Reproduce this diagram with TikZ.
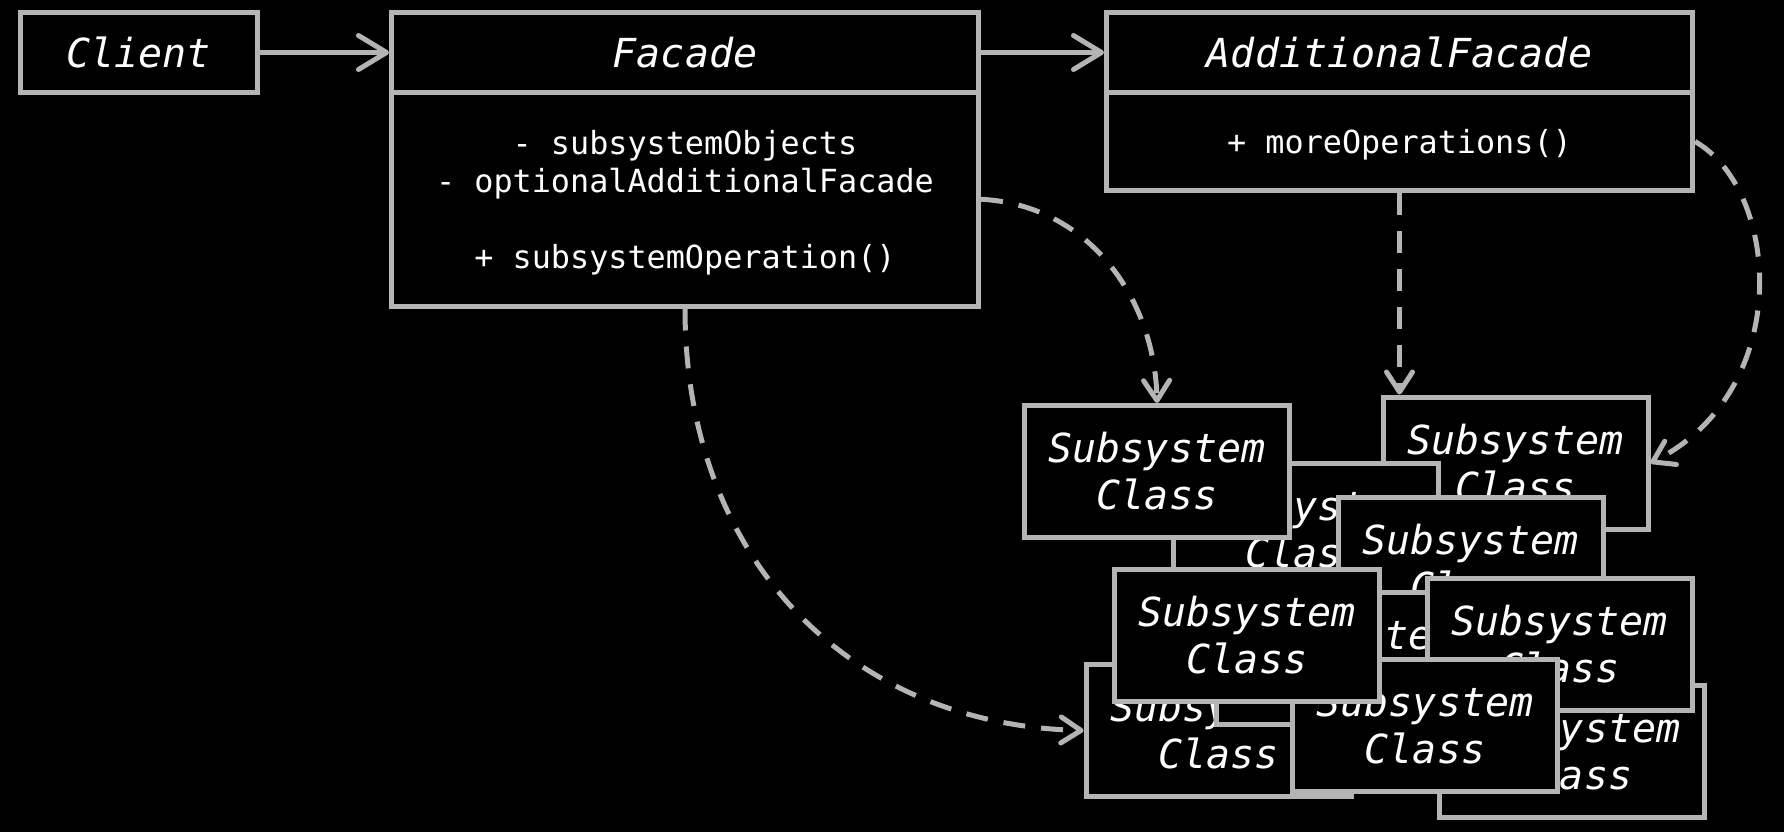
\documentclass[tikz,border=0pt]{standalone}
\usepackage{fontspec}
\setmonofont{DejaVu Sans Mono}
\usetikzlibrary{arrows.meta}
\definecolor{ln}{HTML}{B4B4B4}
\begin{document}
\begin{tikzpicture}[x=1pt,y=-1pt,
  box/.style={draw=ln, line width=5pt, fill=black, text=white, font=\ttfamily\itshape\fontsize{40}{47}\selectfont, align=center, inner sep=0pt},
  sub/.style={box, minimum width=265pt, minimum height=132pt},
  body/.style={draw=ln, line width=5pt, fill=black, text=white, font=\ttfamily\fontsize{31.8}{38}\selectfont, align=center, inner sep=0pt, text depth=0pt},
  assoc/.style={draw=ln, line width=5pt, -{Straight Barb[length=28pt,width=34pt,round]}},
  dep/.style={draw=ln, line width=5pt, dash pattern=on 22pt off 16pt, -{Straight Barb[length=20pt,width=26pt,round]}},
]
\fill[black] (0,0) rectangle (1784,832);
\useasboundingbox (0,0) rectangle (1784,832);

% top classes
\node[box, minimum width=237pt, minimum height=80pt] (client) at (138.5,52.5) {Client};
\node[body, minimum width=587pt, minimum height=213.5pt] (fb) at (685,199.25)
  {- subsystemObjects\\- optionalAdditionalFacade\\[38pt]+ subsystemOperation()};
\node[box, minimum width=587pt, minimum height=80pt] (fh) at (685,52.5) {Facade};
\node[body, minimum width=586pt, minimum height=98pt] (afb) at (1399.5,141.5)
  {+ moreOperations()};
\node[box, minimum width=586pt, minimum height=80pt] (afh) at (1399.5,52.5) {AdditionalFacade};

% subsystem classes, back to front
\node[sub] (J) at (1572,751) {Subsystem\\Class};
\node[sub] (F) at (1218.5,730.5) {Subsystem\\Class};
\node[sub] (C) at (1515.5,463) {Subsystem\\Class};
\node[sub] (B) at (1305.5,529) {Subsystem\\Class};
\node[sub] (A) at (1157,471.5) {Subsystem\\Class};
\node[sub] (D) at (1470.5,563) {Subsystem\\Class};
\node[sub] (G) at (1348.5,658) {Subsystem\\Class};
\node[sub] (H) at (1559.5,644.5) {Subsystem\\Class};
\node[sub] (I) at (1425,725) {Subsystem\\Class};
\node[sub] (E) at (1247,635) {Subsystem\\Class};

% connectors
\draw[assoc] (client) -- (fh);
\draw[assoc] (fh) -- (afh);
\draw[dep] (fb.east) .. controls (1090,205) and (1155,300) .. (A.north);
\draw[dep] (afb.south) -- (afb.south |- C.north);
\draw[dep] (afb.east) .. controls (1780,190) and (1795,390) .. (C.east);
\draw[dep] (fb.south) .. controls (685,560) and (850,725) .. (F.west);
\end{tikzpicture}
\end{document}
